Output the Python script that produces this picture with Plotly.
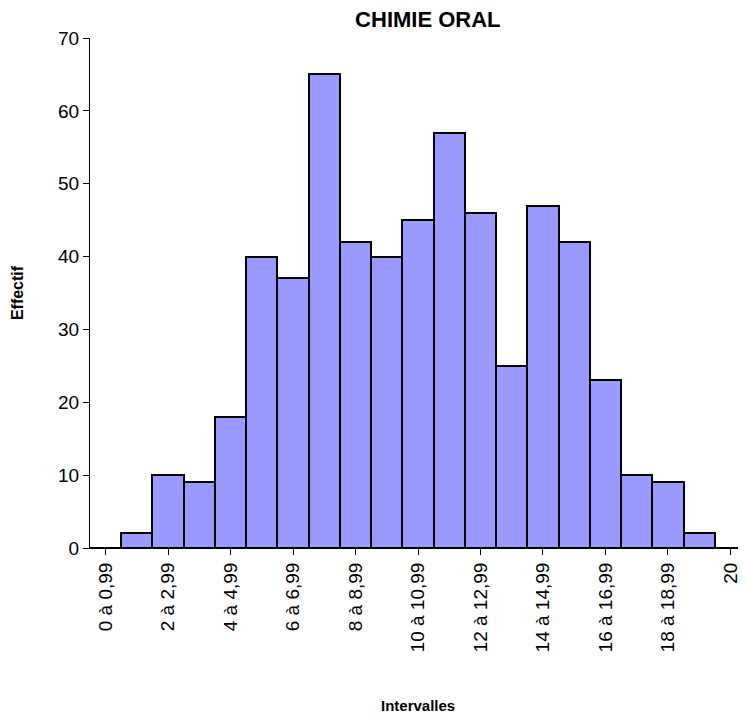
import plotly.graph_objects as go

categories = [f"{i} à {i},99" for i in range(20)] + ["20"]
effectif = [0, 2, 10, 9, 18, 40, 37, 65, 42, 40, 45, 57, 46, 25, 47, 42, 23, 10, 9, 2, 0]
shown_ticks = categories[::2]

fig = go.Figure(go.Bar(x=categories, y=effectif, marker=dict(color="#9999FF", line=dict(color="black", width=2))))
fig.update_layout(
    width=738, height=710, plot_bgcolor="white", paper_bgcolor="white",
    bargap=0, showlegend=False,
    margin=dict(l=82, r=0, t=30, b=170),
    font=dict(family="Arial, Liberation Sans", size=19, color="black"),
    title=dict(text="<b>CHIMIE ORAL</b>", x=0.515, xref="paper", y=0.995, xanchor="center", yanchor="top", font=dict(size=22)),
)
fig.add_annotation(text="<b>Intervalles</b>", xref="paper", yref="paper", x=0.5, y=-157 / 510,
                   showarrow=False, font=dict(size=15), yanchor="middle")
fig.update_xaxes(tickvals=shown_ticks, tickangle=-90, showline=True, linecolor="black", linewidth=1,
                 ticks="outside", ticklen=6, tickcolor="black", automargin=False)
fig.update_yaxes(range=[0, 70], dtick=10, showgrid=False, zeroline=False, showline=True, linecolor="black",
                 ticks="outside", ticklen=6, tickcolor="black", automargin=False,
                 title=dict(text="<b>Effectif</b>", font=dict(size=16), standoff=30))
fig.write_html("out.html")
